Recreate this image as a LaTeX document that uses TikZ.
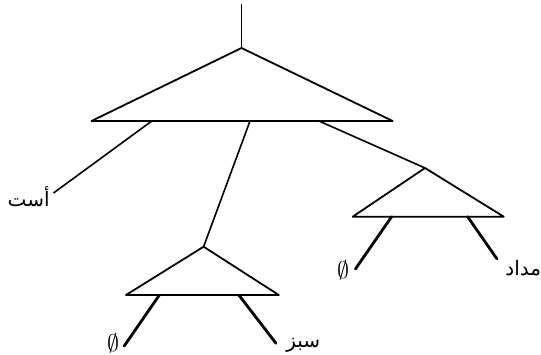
\documentclass[tikz,border=0pt]{standalone}
\usepackage{amsmath,amssymb}
\usepackage{fontspec}
\newfontfamily\arabicfont[Script=Arabic]{DejaVu Sans}
\TeXXeTstate=1
\usetikzlibrary{calc}
\tikzset{
  triln/.style={line width=0.9pt, line join=round},
  branchln/.style={line width=0.8pt},
  leafln/.style={line width=1.4pt, line cap=round},
  arlabel/.style={font=\arabicfont\fontsize{10}{12}\selectfont, inner sep=0pt},
  nulllabel/.style={font=\large, inner sep=0pt},
}

\begin{document}
\begin{tikzpicture}[x=0.5pt,y=-0.5pt]
    \useasboundingbox (0,0) rectangle (541,354);
    % big triangle
    \coordinate (root) at (241.5,4);
    \coordinate (top) at (241.5,48);
    \coordinate (topl) at (91.5,121);
    \coordinate (topr) at (392.7,121);
    \draw[triln] (root) -- (top);
    \draw[triln] (top) -- (topl) -- (topr) -- cycle;
    \coordinate (topa) at (151.8,121);
    \coordinate (topb) at (250,121);
    \coordinate (topc) at (319,121);
    % right triangle
    \coordinate (rgt) at (425,168);
    \coordinate (rgtl) at (352.7,216.7);
    \coordinate (rgtr) at (503.8,216.7);
    \draw[triln] (rgt) -- (rgtl) -- (rgtr) -- cycle;
    \coordinate (rgta) at (391.6,216.7);
    \coordinate (rgtb) at (467.6,216.7);
    % bottom triangle
    \coordinate (bot) at (203.6,246.7);
    \coordinate (botl) at (126,295);
    \coordinate (botr) at (278.8,295);
    \draw[triln] (bot) -- (botl) -- (botr) -- cycle;
    \coordinate (bota) at (159.4,295);
    \coordinate (botb) at (238.8,295);
    % leaves
    \coordinate (astend) at (53.5,193);
    \node[arlabel, anchor=east] (ast) at (50,197) {\beginR أست\endR};
    \coordinate (null1end) at (355.4,269);
    \node[nulllabel] (null1) at (343,270) {$\emptyset$};
    \coordinate (medadend) at (496.9,258.8);
    \node[arlabel, anchor=west] (medad) at (505,268) {\beginR مداد\endR};
    \coordinate (null2end) at (124.2,346);
    \node[nulllabel] (null2) at (113,343) {$\emptyset$};
    \coordinate (sabzend) at (276,343.3);
    \node[arlabel, anchor=west] (sabz) at (286,345) {\beginR سبز\endR};
    % branches
    \draw[branchln] (topa) -- (astend);
    \draw[branchln] (topb) -- (bot);
    \draw[branchln] (topc) -- (rgt);
    \draw[leafln] (rgta) -- (null1end);
    \draw[leafln] (rgtb) -- (medadend);
    \draw[leafln] (bota) -- (null2end);
    \draw[leafln] (botb) -- (sabzend);
\end{tikzpicture}
\end{document}
